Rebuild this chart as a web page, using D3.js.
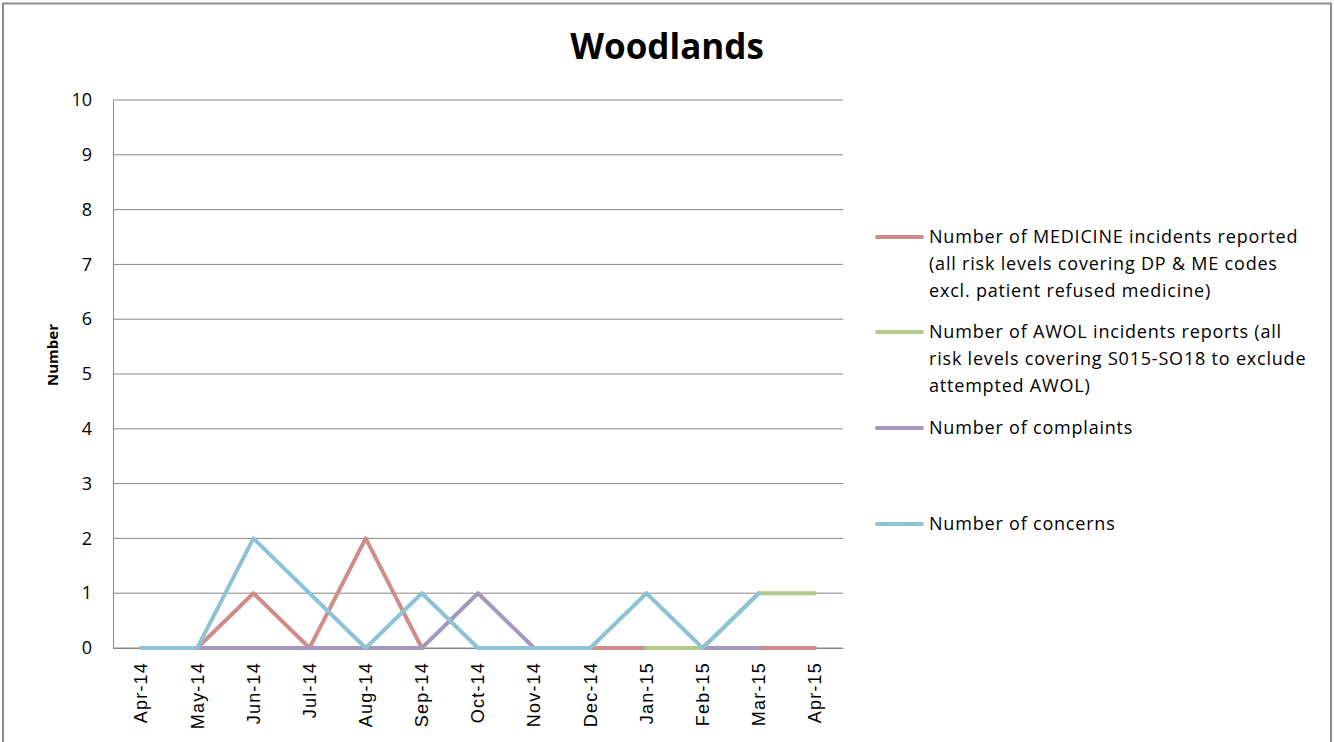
<!DOCTYPE html>
<html>
<head>
<meta charset="utf-8">
<script src="https://cdn.jsdelivr.net/npm/d3@7"></script>
<style>
  body { margin: 0; background: #fff; }
  svg text { font-family: "Open Sans", "Liberation Sans", sans-serif; }
</style>
</head>
<body>
<svg id="chart" width="1334" height="742"></svg>
<script>
// data (null = no point in that month)
const months = ["Apr-14", "May-14", "Jun-14", "Jul-14", "Aug-14", "Sep-14", "Oct-14",
  "Nov-14", "Dec-14", "Jan-15", "Feb-15", "Mar-15", "Apr-15"];
const medicine = [0, 0, 1, 0, 2, 0, null, 0, 0, 0, 0, 0, 0];
const awol = [0, 0, 0, 0, 0, 0, null, 0, null, 0, 0, 1, 1];
const complaints = [0, 0, 0, 0, 0, 0, 1, 0, 0, null, 0, 0, null];
const concerns = [0, 0, 2, 1, 0, 1, 0, 0, 0, 1, 0, 1, null];
const yTicks = [0, 1, 2, 3, 4, 5, 6, 7, 8, 9, 10];

const series = [
  { name: ["Number of MEDICINE incidents reported", "(all risk levels covering DP & ME codes", "excl. patient refused medicine)"], values: medicine, color: "#d08c89" },
  { name: ["Number of AWOL incidents reports (all", "risk levels covering S015-SO18 to exclude", "attempted AWOL)"], values: awol, color: "#b4cb8e" },
  { name: ["Number of complaints"], values: complaints, color: "#a697be" },
  { name: ["Number of concerns"], values: concerns, color: "#8dc3d6" }
];

const svg = d3.select("#chart");
const margin = { top: 100, left: 113 };
const width = 730, height = 548;

// outer frame
svg.append("rect").attr("x", 3).attr("y", 3.5).attr("width", 1328).attr("height", 760)
  .attr("fill", "none").attr("stroke", "#8c8c8c").attr("stroke-width", 2);

svg.append("text")
  .attr("x", 667).attr("y", 59)
  .attr("text-anchor", "middle")
  .attr("font-size", 35).attr("font-weight", "bold")
  .text("Woodlands");

const chart = svg.append("g").attr("transform", `translate(${margin.left},${margin.top})`);

const x = d3.scaleBand().domain(months).range([0, width]);
const y = d3.scaleLinear().domain([0, 10]).range([height, 0]);

// gridlines
chart.selectAll(".grid").data(yTicks).enter().append("line")
  .attr("x1", 0).attr("x2", width)
  .attr("y1", d => y(d)).attr("y2", d => y(d))
  .attr("stroke", "#868686").attr("stroke-width", 1);

const yAxis = chart.append("g")
  .call(d3.axisLeft(y).tickValues(yTicks).tickSize(0).tickPadding(21).tickFormat(d3.format("d")));
yAxis.select(".domain").attr("stroke", "#868686");
yAxis.selectAll("text").attr("font-size", 18).attr("fill", "#000")
  .style("font-family", "'Open Sans', sans-serif");

const xAxis = chart.append("g").attr("transform", `translate(0,${height})`)
  .call(d3.axisBottom(x).tickSize(0).tickPadding(0));
xAxis.select(".domain").attr("stroke", "#868686");
xAxis.selectAll("text")
  .attr("transform", "rotate(-90)")
  .attr("x", -14).attr("y", 0).attr("dy", "0.35em")
  .style("text-anchor", "end")
  .style("letter-spacing", "1.2px")
  .attr("font-size", 18).attr("fill", "#000")
  .style("font-family", "'Liberation Sans', sans-serif");

chart.append("text")
  .attr("transform", "rotate(-90)")
  .attr("x", -255).attr("y", -55)
  .attr("text-anchor", "middle")
  .attr("font-size", 15).attr("font-weight", "bold")
  .text("Number");

const line = d3.line()
  .defined(d => d != null)
  .x((d, i) => x(months[i]) + x.bandwidth() / 2)
  .y(d => y(d));

series.forEach(s => {
  chart.append("path")
    .datum(s.values)
    .attr("fill", "none")
    .attr("stroke", s.color)
    .attr("stroke-width", 4)
    .attr("stroke-linecap", "round")
    .attr("stroke-linejoin", "round")
    .attr("d", line);
});

// legend
const legendY = [237, 332, 428, 524];
const legend = svg.append("g");
series.forEach((s, i) => {
  const g = legend.append("g").attr("transform", `translate(877,${legendY[i]})`);
  g.append("line").attr("x1", 0).attr("x2", 45).attr("y1", 0).attr("y2", 0)
    .attr("stroke", s.color).attr("stroke-width", 4).attr("stroke-linecap", "round");
  s.name.forEach((t, j) => {
    g.append("text").attr("x", 52).attr("y", j * 27).attr("dy", "0.36em")
      .attr("font-size", 18).style("letter-spacing", "0.8px").text(t);
  });
});
</script>
</body>
</html>
